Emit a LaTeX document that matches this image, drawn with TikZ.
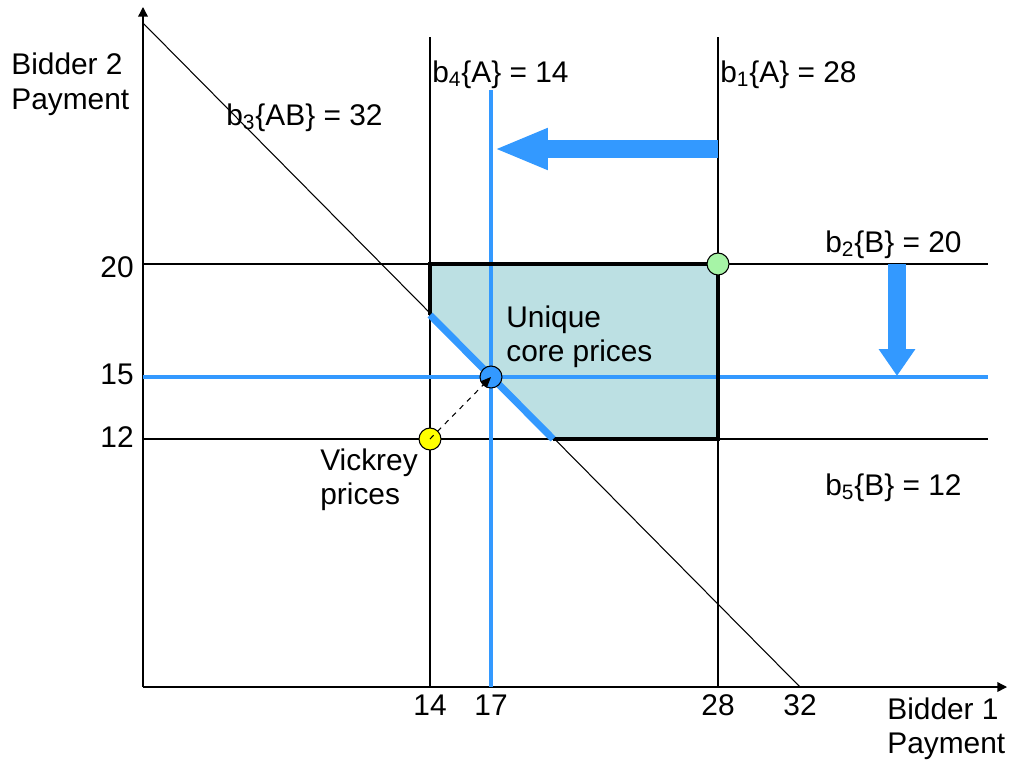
\documentclass[tikz,border=0pt]{standalone}
\usepackage{fontspec}
\setmainfont{Liberation Sans}
\usetikzlibrary{arrows.meta,positioning}
\definecolor{corefill}{RGB}{188,224,227}
\definecolor{bidblue}{RGB}{51,153,255}
\definecolor{vcgyellow}{RGB}{255,255,0}
\definecolor{startgreen}{RGB}{166,244,166}

\begin{document}
\begin{tikzpicture}[x=0.02cm, y=-0.02cm,
  lbl/.style={font=\fontsize{17}{19.8}\selectfont, inner sep=0pt, align=left},
  gridline/.style={line width=1.1pt},
  axisline/.style={line width=0.8pt, -{Triangle[length=5.5pt,width=5.5pt]}},
  blueline/.style={draw=bidblue, line width=2.3pt},
  movearrow/.style={draw=bidblue, line width=10.2pt},
  price/.style={circle, draw, line width=0.6pt, minimum size=12.5pt, inner sep=0pt}
]
  \useasboundingbox (0,0) rectangle (1010,761);

  % core region
  \fill[corefill] (430,264) -- (718,264) -- (718,439) -- (553,439) -- (430,315) -- cycle;

  % bid lines
  \draw[gridline] (430,37) -- (430,687);
  \draw[gridline] (718,37) -- (718,687);
  \draw[gridline] (143,264) -- (988,264);
  \draw[gridline] (143,439) -- (988,439);
  \draw[line width=0.6pt] (143,23) -- (800,687);

  % axes
  \coordinate (O) at (143,687);
  \coordinate (ytop) at (143,7);
  \coordinate (xend) at (1007,687);
  \draw[axisline] (O) -- (ytop);
  \draw[axisline] (O) -- (xend);

  % moved bids
  \draw[blueline] (491,90) -- (491,687);
  \draw[blueline] (143,377) -- (988,377);
  \coordinate (a1) at (718,149);
  \coordinate (a2) at (494,149);
  \draw[movearrow, -{Triangle[length=30.6pt,width=21.5pt]}] (a1) -- (a2);
  \coordinate (d1) at (897,264);
  \coordinate (d2) at (897,376);
  \draw[movearrow, -{Triangle[length=15.3pt,width=19.8pt]}] (d1) -- (d2);

  % core border
  \draw[line width=2.3pt] (430,315) -- (430,264) -- (718,264) -- (718,439) -- (553,439);
  \draw[draw=bidblue, line width=4pt] (430,315) -- (553,439);

  % price points
  \node[price, fill=startgreen] (bid) at (718,264) {};
  \node[price, fill=bidblue] (core) at (491,377) {};
  \node[price, fill=vcgyellow] (vcg) at (430,439) {};
  \draw[dashed, line width=0.6pt, -{Triangle[length=6pt,width=5pt]}] (vcg.center) -- (core.center);

  % labels
  \node[lbl, anchor=north west] (ylab) at (11,53) {Bidder 2\\Payment};
  \node[lbl, anchor=north west] (xlab) at (887,697) {Bidder 1\\Payment};
  \node[lbl, anchor=base west] (b3) at (226,125) {b\textsubscript{3}\{AB\} = 32};
  \node[lbl, anchor=base west] (b4) at (432,82) {b\textsubscript{4}\{A\} = 14};
  \node[lbl, anchor=base west] (b1) at (720,82) {b\textsubscript{1}\{A\} = 28};
  \node[lbl, anchor=base west] (b2) at (825,252) {b\textsubscript{2}\{B\} = 20};
  \node[lbl, anchor=base west] (b5) at (825,495) {b\textsubscript{5}\{B\} = 12};
  \node[lbl, anchor=north west] (corelab) at (506,305) {Unique\\core prices};
  \node[lbl, anchor=north west] (vcglab) at (320,448) {Vickrey\\prices};

  % ticks
  \foreach \v/\x in {14/430, 17/491, 28/718, 32/800}
    \node[lbl, anchor=base] (tx\v) at (\x,715) {\v};
  \foreach \v/\y in {20/277, 15/384, 12/447}
    \node[lbl, anchor=base east] (ty\v) at (134,\y) {\v};
\end{tikzpicture}
\end{document}
